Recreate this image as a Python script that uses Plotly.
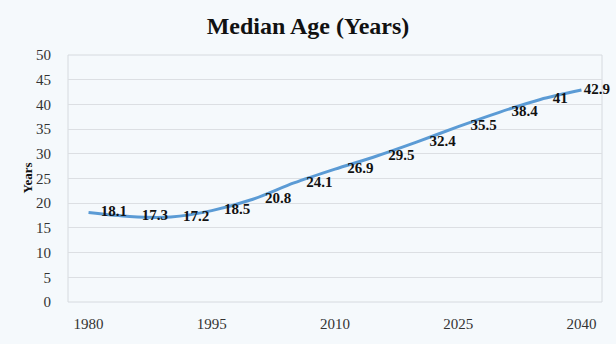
import plotly.graph_objects as go

years = [1980, 1985, 1990, 1995, 2000, 2005, 2010, 2015, 2020, 2025, 2030, 2035, 2040]
median_age = [18.1, 17.3, 17.2, 18.5, 20.8, 24.1, 26.9, 29.5, 32.4, 35.5, 38.4, 41, 42.9]
x_ticks = [1980, 1995, 2010, 2025, 2040]
y_ticks = [0, 5, 10, 15, 20, 25, 30, 35, 40, 45, 50]

SERIF = "Liberation Serif, Times New Roman, serif"

# last label is pushed inward so it stays inside the chart
label_gap = [18] * (len(years) - 1) + [2]

fig = go.Figure()
fig.add_trace(go.Scatter(
    x=years, y=median_age,
    mode="lines+markers+text",
    line=dict(color="#5b9bd5", width=3, shape="spline", smoothing=0.8),
    marker=dict(size=label_gap, color="rgba(0,0,0,0)", opacity=0,
                line=dict(width=0, color="rgba(0,0,0,0)")),
    text=[str(v) for v in median_age],
    textposition="middle right",
    textfont=dict(family=SERIF, size=15, color="#111111", weight="bold"),
    cliponaxis=False,
    showlegend=False,
    hoverinfo="skip",
))

fig.update_layout(
    width=616, height=344,
    margin=dict(l=68, r=14, t=55, b=37),
    paper_bgcolor="#f5f9fc",
    plot_bgcolor="#f5f9fc",
    title=dict(text="<b>Median Age (Years)</b>", x=0.5, xanchor="center",
               y=1 - 26 / 344, yref="container", yanchor="middle",
               font=dict(family=SERIF, size=24, color="#111111")),
    xaxis=dict(range=[1977.5, 2042.5], tickvals=x_ticks, showgrid=False,
               zeroline=False, showline=False,
               tickfont=dict(family=SERIF, size=15, color="#333333"),
               ticks="outside", ticklen=0, ticklabelstandoff=8),
    yaxis=dict(range=[0, 50], tickvals=y_ticks, showgrid=True,
               gridcolor="#dcdfe3", gridwidth=1, zeroline=False, showline=False,
               tickfont=dict(family=SERIF, size=15, color="#333333"),
               ticks="outside", ticklen=0, ticklabelstandoff=13),
    font=dict(family=SERIF),
    annotations=[dict(text="<b>Years</b>", textangle=-90, xref="paper", yref="paper",
                      x=(27 - 68) / 534, y=0.5, xanchor="center", yanchor="middle",
                      showarrow=False, font=dict(family=SERIF, size=13, color="#111111"))],
    shapes=[dict(type="rect", xref="paper", yref="paper", x0=0, y0=0, x1=1, y1=1,
                 line=dict(color="#d6dadf", width=1), layer="below")],
)

fig.write_html("out.html")
